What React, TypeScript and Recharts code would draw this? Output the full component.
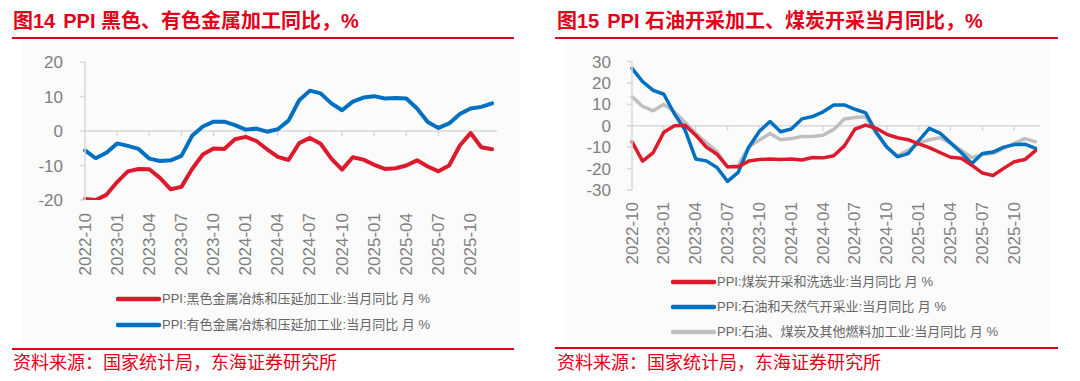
import React from 'react';
import { LineChart, Line, XAxis, YAxis, ReferenceLine } from 'recharts';

const months = [
  '2022-10', '2022-11', '2022-12', '2023-01', '2023-02', '2023-03', '2023-04', '2023-05', '2023-06',
  '2023-07', '2023-08', '2023-09', '2023-10', '2023-11', '2023-12', '2024-01', '2024-02', '2024-03',
  '2024-04', '2024-05', '2024-06', '2024-07', '2024-08', '2024-09', '2024-10', '2024-11', '2024-12',
  '2025-01', '2025-02', '2025-03', '2025-04', '2025-05', '2025-06', '2025-07', '2025-08', '2025-09',
  '2025-10', '2025-11', '2025-12',
];

// Figure 14
const ferrous = [-19.7, -20.0, -18.5, -14.8, -11.7, -11.0, -11.1, -13.6, -16.9, -16.2, -11.0, -6.8, -5.1, -5.2, -2.4, -1.7, -2.9, -5.3, -7.5, -8.4, -3.5, -2.0, -3.7, -8.0, -11.2, -7.6, -8.3, -9.8, -11.0, -10.8, -10.0, -8.5, -10.3, -11.7, -10.0, -4.2, -0.6, -4.7, -5.3];
const nonferrous = [-5.6, -7.9, -6.3, -3.6, -4.3, -5.2, -8.0, -8.7, -8.5, -7.2, -1.4, 1.3, 2.7, 2.7, 1.7, 0.4, 0.7, -0.2, 0.5, 3.0, 8.9, 11.7, 10.9, 8.0, 6.0, 8.5, 9.7, 10.1, 9.4, 9.6, 9.4, 6.5, 2.6, 0.9, 2.2, 4.9, 6.5, 7.0, 8.0];

// Figure 15
const coal = [-7.5, -16.5, -12.5, -3, 0, 0.2, -4.4, -10, -13.3, -19.2, -19.2, -16.5, -15.8, -15.5, -15.8, -15.5, -16, -14.8, -15, -14, -9.4, -1.6, 0.3, -1.2, -4, -5.6, -6.5, -8.5, -10.2, -12.5, -14.7, -15.2, -18.4, -22.1, -23.2, -19.9, -16.8, -15.8, -11.6];
const oilGas = [26.8, 20.6, 16.5, 14.7, 5.5, -2, -15.5, -16.4, -19.5, -26, -21.8, -10, -2.6, 2, -2.8, -1.5, 3.2, 4.3, 6.5, 9.7, 9.7, 7.7, 6, -3, -10, -14.5, -13, -7, -1.2, -3.4, -8, -12.5, -17.6, -13, -12.3, -10, -8.8, -8.6, -10.6];
const refining = [13.6, 9, 7, 10, 6.5, 1.5, -3.5, -8, -12, -19.3, -18.5, -9.8, -6.7, -3.6, -6.5, -6, -5, -5, -4.4, -1.7, 3.2, 3.8, 4.2, -3.5, -10, -14, -11.5, -8.2, -6.5, -5.6, -8.2, -11.4, -14.8, -13.5, -12.9, -10.6, -8.2, -6, -7.5];

const leftTicks = [-20, -10, 0, 10, 20];
const rightTicks = [-30, -20, -10, 0, 10, 20, 30];

const leftNames = ['PPI:黑色金属冶炼和压延加工业:当月同比 月 %', 'PPI:有色金属冶炼和压延加工业:当月同比 月 %'];
const rightNames = ['PPI:煤炭开采和洗选业:当月同比 月 %', 'PPI:石油和天然气开采业:当月同比 月 %', 'PPI:石油、煤炭及其他燃料加工业:当月同比 月 %'];

const RED = '#DC1A2C';
const TEXT_RED = '#E2001A';
const BLUE = '#0070C0';
const GRAY = '#BFBFBF';
const AXIS = '#D9D9D9';
const LABEL = '#7F7F7F';
const FONT = '"Liberation Sans", Arial, "Noto Sans CJK SC", sans-serif';
const CJK = '"Liberation Sans", Arial, "Noto Sans CJK SC", sans-serif';

const leftData = months.map((m, i) => ({ m, a: ferrous[i], b: nonferrous[i] }));
const rightData = months.map((m, i) => ({ m, a: coal[i], b: oilGas[i], c: refining[i] }));
const tickMonths = months.filter((_, i) => i % 3 === 0 && i > 0);

const makeXTick = (gap: number) => (props: any) => {
  const { x, y, payload } = props;
  const ty = y + gap;
  return (
    <text
      x={x}
      y={ty}
      transform={`rotate(-90, ${x}, ${ty})`}
      textAnchor="end"
      dominantBaseline="central"
      fill={LABEL}
      fontSize={17}
      fontFamily={FONT}
    >
      {payload.value}
    </text>
  );
};

const LegendRow = ({ x, y, color, label }: { x: number; y: number; color: string; label: string }) => (
  <div style={{ position: 'absolute', left: x, top: y - 10, height: 20, display: 'flex', alignItems: 'center' }}>
    <svg width={46} height={20} style={{ display: 'block' }}>
      <line x1={2} y1={10} x2={43} y2={10} stroke={color} strokeWidth={4.5} strokeLinecap="round" />
    </svg>
    <span style={{ fontSize: 13, color: '#666666', fontFamily: CJK, whiteSpace: 'nowrap', lineHeight: '20px' }}>{label}</span>
  </div>
);

const Title = ({ x, num, text }: { x: number; num: string; text: string }) => (
  <div
    style={{
      position: 'absolute', left: x, top: 9, fontSize: 20, fontWeight: 'bold', color: TEXT_RED,
      fontFamily: CJK, whiteSpace: 'nowrap', lineHeight: '24px',
    }}
  >
    {'图' + num}
    <span style={{ marginLeft: 8 }}>{text}</span>
  </div>
);

const Rule = ({ x, y, w }: { x: number; y: number; w: number }) => (
  <div style={{ position: 'absolute', left: x, top: y, width: w, height: 2, background: TEXT_RED }} />
);

const Source = ({ x }: { x: number }) => (
  <div
    style={{
      position: 'absolute', left: x, top: 352, fontSize: 18, color: TEXT_RED, fontFamily: CJK,
      whiteSpace: 'nowrap', lineHeight: '22px',
    }}
  >
    资料来源：国家统计局，东海证券研究所
  </div>
);

export default function App() {
  return (
    <div style={{ position: 'absolute', left: 0, top: 0, width: 1080, height: 381, background: '#fff', overflow: 'hidden' }}>
      <div style={{ position: 'absolute', left: 22, top: 40, width: 498, height: 303, background: '#FBFBFB' }} />
      <div style={{ position: 'absolute', left: 565, top: 40, width: 485, height: 303, background: '#FBFBFB' }} />

      <Title x={13} num="14" text="PPI 黑色、有色金属加工同比，%" />
      <Rule x={12} y={37} w={502} />
      <Title x={557} num="15" text="PPI 石油开采加工、煤炭开采当月同比，%" />
      <Rule x={555} y={37} w={503} />

      <div style={{ position: 'absolute', left: 0, top: 0 }}>
        <LineChart width={540} height={381} data={leftData} margin={{ top: 62, right: 43, bottom: 121, left: 25 }}>
          <XAxis
            dataKey="m"
            interval={2}
            axisLine={false}
            tickLine={false}
            tickSize={0}
            tickMargin={0}
            height={60}
            padding={{ left: 0, right: 5 }}
            tick={makeXTick(13)}
          />
          <YAxis
            domain={[-20, 20]}
            ticks={leftTicks}
            interval={0}
            allowDataOverflow
            width={60}
            axisLine={{ stroke: AXIS, strokeWidth: 1.5 }}
            tickLine={{ stroke: AXIS, strokeWidth: 1.5 }}
            tickSize={5}
            tickMargin={17}
            tick={{ fill: LABEL, fontSize: 17, fontFamily: FONT }}
          />
          <ReferenceLine y={0} stroke={AXIS} strokeWidth={1.5} ifOverflow="visible" />
          {tickMonths.map((m) => (
            <ReferenceLine
              key={m}
              segment={[{ x: m, y: 0 }, { x: m, y: -1.5 }]}
              stroke={AXIS}
              strokeWidth={1.5}
              ifOverflow="visible"
            />
          ))}
          <Line dataKey="a" stroke={RED} strokeWidth={4} dot={false} isAnimationActive={false} strokeLinejoin="round" strokeLinecap="round" />
          <Line dataKey="b" stroke={BLUE} strokeWidth={4} dot={false} isAnimationActive={false} strokeLinejoin="round" strokeLinecap="round" />
        </LineChart>
      </div>

      <div style={{ position: 'absolute', left: 540, top: 0 }}>
        <LineChart width={540} height={381} data={rightData} margin={{ top: 61.5, right: 40, bottom: 131, left: 32 }}>
          <XAxis
            dataKey="m"
            interval={2}
            axisLine={false}
            tickLine={false}
            tickSize={0}
            tickMargin={0}
            height={60}
            padding={{ left: 0, right: 4.5 }}
            tick={makeXTick(12)}
          />
          <YAxis
            domain={[-30, 30]}
            ticks={rightTicks}
            interval={0}
            allowDataOverflow
            width={60}
            axisLine={{ stroke: AXIS, strokeWidth: 1.5 }}
            tickLine={{ stroke: AXIS, strokeWidth: 1.5 }}
            tickSize={5}
            tickMargin={16}
            tick={{ fill: LABEL, fontSize: 17, fontFamily: FONT }}
          />
          <ReferenceLine y={0} stroke={AXIS} strokeWidth={1.5} ifOverflow="visible" />
          {tickMonths.map((m) => (
            <ReferenceLine
              key={m}
              segment={[{ x: m, y: 0 }, { x: m, y: -2.3 }]}
              stroke={AXIS}
              strokeWidth={1.5}
              ifOverflow="visible"
            />
          ))}
          <Line dataKey="c" stroke={GRAY} strokeWidth={3.5} dot={false} isAnimationActive={false} strokeLinejoin="round" strokeLinecap="round" />
          <Line dataKey="b" stroke={BLUE} strokeWidth={3.5} dot={false} isAnimationActive={false} strokeLinejoin="round" strokeLinecap="round" />
          <Line dataKey="a" stroke={RED} strokeWidth={3.5} dot={false} isAnimationActive={false} strokeLinejoin="round" strokeLinecap="round" />
        </LineChart>
      </div>

      <LegendRow x={116} y={299} color={RED} label={leftNames[0]} />
      <LegendRow x={116} y={325} color={BLUE} label={leftNames[1]} />
      <LegendRow x={671} y={282} color={RED} label={rightNames[0]} />
      <LegendRow x={671} y={307} color={BLUE} label={rightNames[1]} />
      <LegendRow x={671} y={332} color={GRAY} label={rightNames[2]} />

      <Rule x={12} y={348} w={502} />
      <Rule x={555} y={347} w={503} />
      <Source x={13} />
      <Source x={557} />
    </div>
  );
}
